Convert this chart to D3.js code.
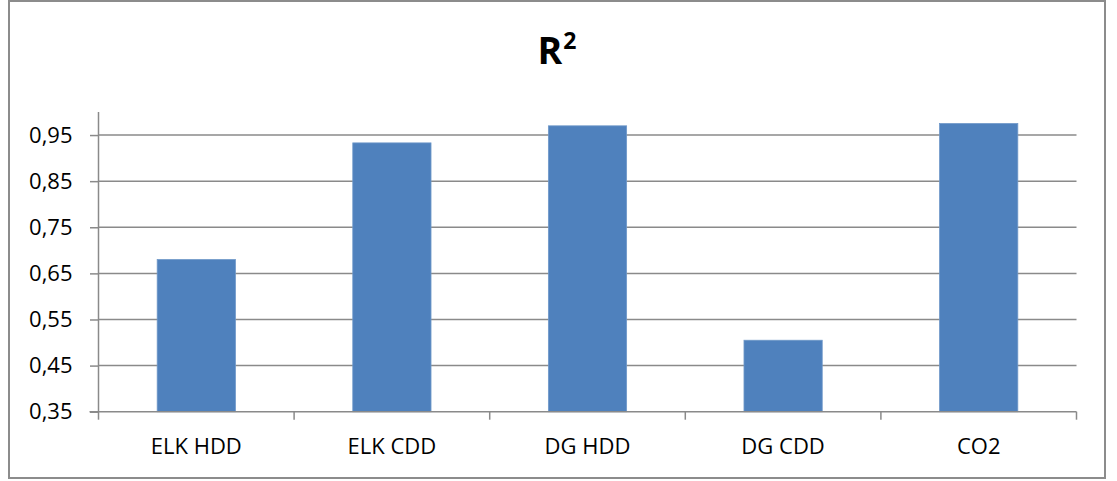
<!DOCTYPE html>
<html>
<head>
<meta charset="utf-8">
<script src="https://cdn.jsdelivr.net/npm/d3@7"></script>
<style>
  html, body { margin: 0; padding: 0; background: #ffffff; }
  svg { display: block; font-family: "Open Sans", sans-serif; }
</style>
</head>
<body>
<svg id="chart" width="1117" height="481"></svg>
<script>
// Coefficient of determination per regression
const categories = ["ELK HDD", "ELK CDD", "DG HDD", "DG CDD", "CO2"];
const values = [0.680, 0.933, 0.970, 0.505, 0.975];
const yTicks = [0.35, 0.45, 0.55, 0.65, 0.75, 0.85, 0.95];
const yDomain = [0.35, 1.0];

const svg = d3.select("#chart");
const W = 1117, H = 481;

const plot = { left: 98.5, right: 1076.5, top: 112, bottom: 411.7 };
const gridColor = "#8a8a8a";

// Outer chart frame
svg.append("rect")
  .attr("x", 9).attr("y", 1)
  .attr("width", 1105 - 9).attr("height", 478 - 1)
  .attr("fill", "#ffffff")
  .attr("stroke", "#8c8c8c")
  .attr("stroke-width", 2);

// Title with superscript
const title = svg.append("text")
  .attr("x", 557).attr("y", 63.5)
  .attr("text-anchor", "middle")
  .attr("font-weight", "bold")
  .attr("font-size", 37.5)
  .attr("fill", "#000");
title.append("tspan").text("R");
title.append("tspan")
  .attr("font-size", 23)
  .attr("dy", -15)
  .attr("dx", 1)
  .text("2");

const x = d3.scaleBand()
  .domain(categories)
  .range([plot.left, plot.right])
  .paddingInner(0.6)
  .paddingOuter(0.3);

const y = d3.scaleLinear()
  .domain(yDomain)
  .range([plot.bottom, plot.top]);

// Horizontal gridlines
svg.append("g")
  .selectAll("line")
  .data(yTicks.slice(1))
  .join("line")
  .attr("x1", plot.left).attr("x2", plot.right)
  .attr("y1", d => y(d)).attr("y2", d => y(d))
  .attr("stroke", gridColor)
  .attr("stroke-width", 1.5);

// Bars
svg.append("g")
  .selectAll("rect")
  .data(categories.map((c, i) => ({ c, v: values[i] })))
  .join("rect")
  .attr("x", d => x(d.c))
  .attr("width", x.bandwidth())
  .attr("y", d => y(d.v))
  .attr("height", d => y(yDomain[0]) - y(d.v))
  .attr("fill", "#4f81bd")
  .attr("stroke", "#6f98c9")
  .attr("stroke-width", 0.8);

// Y axis
const fmt = d => d3.format(".2f")(d).replace(".", ",");
const yAxis = svg.append("g")
  .attr("transform", `translate(${plot.left},0)`)
  .call(d3.axisLeft(y).tickValues(yTicks).tickSize(8.5).tickPadding(17.5).tickFormat(fmt));
yAxis.select(".domain").remove();
yAxis.append("line")
  .attr("x1", 0).attr("x2", 0)
  .attr("y1", plot.top).attr("y2", plot.bottom)
  .attr("stroke", gridColor).attr("stroke-width", 1.5);
yAxis.selectAll(".tick line").attr("stroke", gridColor).attr("stroke-width", 1.5);
yAxis.selectAll(".tick text")
  .attr("font-size", 22)
  .attr("font-family", "'Open Sans', sans-serif")
  .attr("fill", "#000");

// X axis: labels at band centres, tick marks at band boundaries
const xAxis = svg.append("g")
  .attr("transform", `translate(0,${plot.bottom})`)
  .call(d3.axisBottom(x).tickSize(0).tickPadding(26.5));
xAxis.select(".domain").remove();
xAxis.selectAll(".tick text")
  .attr("font-size", 22)
  .attr("font-family", "'Open Sans', sans-serif")
  .attr("fill", "#000");
xAxis.append("line")
  .attr("x1", plot.left - 9).attr("x2", plot.right)
  .attr("y1", 0).attr("y2", 0)
  .attr("stroke", gridColor).attr("stroke-width", 1.5);

const step = x.step();
const boundaries = d3.range(categories.length + 1).map(i => plot.left + i * (plot.right - plot.left) / categories.length);
xAxis.selectAll(".bound")
  .data(boundaries)
  .join("line")
  .attr("class", "bound")
  .attr("x1", d => d).attr("x2", d => d)
  .attr("y1", 0).attr("y2", 8)
  .attr("stroke", gridColor).attr("stroke-width", 1.5);
</script>
</body>
</html>
